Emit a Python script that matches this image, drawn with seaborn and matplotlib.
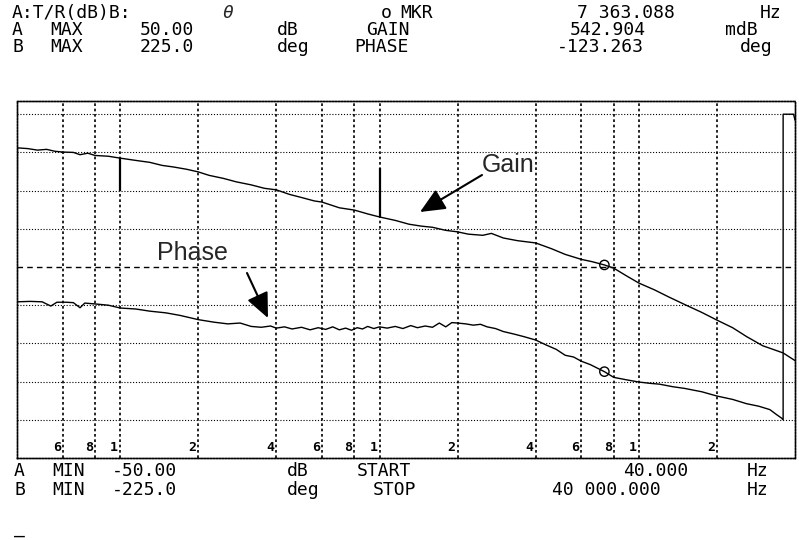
import matplotlib
matplotlib.use("Agg")
import matplotlib.pyplot as plt
import matplotlib.transforms as mtransforms
from matplotlib.ticker import NullLocator
import pandas as pd
import seaborn as sns

# ---------------- data ----------------
gain_freq = [40, 44, 48, 52, 56, 60, 66, 70, 75, 80, 90, 100, 115, 130, 145, 160,
             180, 200, 220, 250, 280, 320, 360, 400, 450, 500, 560, 600, 700, 800,
             900, 1000, 1150, 1300, 1450, 1600, 1800, 2000, 2200, 2500, 2700, 3000,
             3400, 4000, 4600, 5200, 6000, 6600, 7363, 8000, 9000, 10000, 11500,
             13000, 15000, 17500, 20000, 23000, 26000, 30000, 34000, 36000, 40000]
gain_db = [31.2, 31.0, 30.6, 30.8, 30.3, 30.1, 30.0, 29.4, 29.8, 29.2, 29.0, 28.5,
           27.9, 27.4, 26.6, 26.2, 25.6, 24.9, 24.0, 23.2, 22.3, 21.5, 20.6, 20.2,
           19.0, 18.2, 17.3, 17.0, 15.5, 14.9, 13.9, 13.1, 12.2, 11.2, 10.7, 10.4,
           9.6, 9.2, 8.6, 8.3, 8.8, 7.6, 6.9, 6.3, 4.8, 3.3, 2.0, 1.4, 0.54, -0.3,
           -2.4, -4.2, -6.0, -7.8, -9.8, -11.9, -13.9, -15.9, -18.2, -20.6, -21.9,
           -22.5, -24.5]

phase_freq = [40, 45, 50, 54, 57, 62, 66, 70, 73, 80, 90, 100, 115, 130, 150, 170,
              200, 230, 260, 290, 320, 350, 380, 400, 430, 460, 500, 540, 580, 620,
              660, 700, 740, 780, 820, 860, 900, 950, 1000, 1070, 1150, 1230, 1320,
              1400, 1500, 1600, 1700, 1800, 1900, 2000, 2150, 2300, 2450, 2600, 2800,
              3000, 3300, 3600, 4000, 4400, 4800, 5200, 5600, 6000, 6500, 7363, 8000,
              9000, 10000, 11000, 12000, 13500, 15000, 17500, 20000, 23000, 26000,
              29000, 32000, 34000, 35500, 36000, 36000, 39500, 40000]
phase_deg = [-41, -40.5, -41, -46, -41.5, -41.5, -42, -48, -42.5, -43.5, -45, -48.3,
             -49.5, -52, -54, -57, -62, -65, -67, -66, -70, -71, -69.5, -72, -70.5,
             -73, -71, -74, -71.5, -73.5, -70.5, -74, -72, -74.5, -71.5, -73, -70,
             -72.5, -70.5, -72, -70, -72.5, -69, -71.5, -69.5, -71, -66, -70.5,
             -65.5, -66, -67, -68.5, -67.5, -70.5, -72.5, -76, -79, -82, -86, -92,
             -97, -104, -106, -111, -115, -123.3, -130, -133, -135.5, -137, -138,
             -141, -143, -147, -152, -156, -161, -164, -168, -174, -178, -180, 180,
             180, 173]

marker_freq = 7363.088
marker_gain = 0.542904
marker_phase = -123.263

# short solid plotter strokes on the gain trace (freq, upper dB, lower dB)
stroke_freq = [40, 100, 1000]
stroke_top = [31.2, 28.5, 26.0]
stroke_bottom = [23.0, 20.0, 13.1]

grid_freqs = [60, 80, 100, 200, 400, 600, 800, 1000, 2000, 4000, 6000, 8000, 10000, 20000]
grid_labels = ["6", "8", "1", "2", "4", "6", "8", "1", "2", "4", "6", "8", "1", "2"]
gain_grid = [-40, -30, -20, -10, 10, 20, 30, 40]

f_start, f_stop = 40, 40000
a_min, a_max = -50.0, 50.0
b_min, b_max = -225.0, 225.0
visible_frac = 0.9346   # top of the scanned screen is cut slightly

header = [  # (text, x px, y px)
    ("A:T/R(dB)B:", 12, 13), ("o", 381, 13), ("MKR", 400, 13),
    ("7 363.088", 577, 13), ("Hz", 760, 13),
    ("A", 12, 30), ("MAX", 50, 30), ("50.00", 140, 30), ("dB", 277, 30),
    ("GAIN", 366, 30), ("542.904", 570, 30), ("mdB", 725, 30),
    ("B", 12, 47), ("MAX", 50, 47), ("225.0", 140, 47), ("deg", 277, 47),
    ("PHASE", 354, 47), ("-123.263", 557, 47), ("deg", 740, 47),
    ("A", 14, 471), ("MIN", 52, 471), ("-50.00", 112, 471), ("dB", 287, 471),
    ("START", 357, 471), ("40.000", 623, 471), ("Hz", 747, 471),
    ("B", 14, 490), ("MIN", 52, 490), ("-225.0", 112, 490), ("deg", 287, 490),
    ("STOP", 373, 490), ("40 000.000", 552, 490), ("Hz", 747, 490),
    ("_", 14, 528),
]

# ---------------- figure ----------------
sns.set_style("white")
plt.rcParams["font.family"] = ["DejaVu Sans Mono", "DejaVu Sans"]

W, H = 799, 540
fig = plt.figure(figsize=(W / 100, H / 100), dpi=100)
left, right, top, bottom = 17, 795, 101, 458
ax = fig.add_axes([left / W, 1 - bottom / H, (right - left) / W, (bottom - top) / H])
ax2 = ax.twinx()

gain_df = pd.DataFrame({"freq": gain_freq, "gain": gain_db})
phase_df = pd.DataFrame({"freq": phase_freq, "phase": phase_deg})

sns.lineplot(data=gain_df, x="freq", y="gain", ax=ax, estimator=None, sort=False,
             color="black", lw=1.0)
sns.lineplot(data=phase_df, x="freq", y="phase", ax=ax2, estimator=None, sort=False,
             color="black", lw=1.0)
sns.scatterplot(x=[marker_freq], y=[marker_gain], ax=ax, marker="o", s=45,
                facecolor="none", edgecolor="black", linewidth=1.0)
sns.scatterplot(x=[marker_freq], y=[marker_phase], ax=ax2, marker="o", s=45,
                facecolor="none", edgecolor="black", linewidth=1.0)
ax.vlines(stroke_freq, stroke_bottom, stroke_top, color="black", lw=1.6)

for a in (ax, ax2):
    a.set_xscale("log")
    a.set_xlim(f_start, f_stop)
    a.set_xlabel("")
    a.set_ylabel("")
ax.set_ylim(a_min, a_min + (a_max - a_min) * visible_frac)
ax2.set_ylim(b_min, b_min + (b_max - b_min) * visible_frac)

ax.set_xticks(grid_freqs)
ax.xaxis.set_minor_locator(NullLocator())
ax.set_xticklabels([])
ax.set_yticks(gain_grid)
ax.set_yticklabels([])
ax.tick_params(length=0)
ax2.set_yticks([])
ax2.tick_params(length=0)
ax.xaxis.grid(True, color="black", linestyle=(0, (1.6, 1.6)), lw=1.2)
ax.yaxis.grid(True, color="black", linestyle=(0, (1.0, 1.6)), lw=0.8)
ax.axhline(0, color="black", linestyle=(0, (4, 3)), lw=1.0)
ax.set_axisbelow(True)

for a in (ax, ax2):
    for s in a.spines.values():
        s.set_visible(True)
        s.set_color("black")
        s.set_linestyle((0, (1.0, 1.2)))
        s.set_linewidth(1.0)

# frequency digits along the bottom of the screen
blend = mtransforms.blended_transform_factory(ax.transData, ax.transAxes)
lab_tr = mtransforms.offset_copy(blend, fig=fig, x=-2, y=0, units="dots")
for f, lab in zip(grid_freqs, grid_labels):
    ax.text(f, 0.012, lab, transform=lab_tr, ha="right", va="bottom",
            fontsize=9.5, fontweight="bold", color="black")

# instrument header / footer text
for txt, x, y in header:
    fig.text(x / W, 1 - y / H, txt, ha="left", va="center", fontsize=13,
             color="black", family=["DejaVu Sans Mono", "DejaVu Sans"])
fig.text(222 / W, 1 - 13 / H, "θ", ha="left", va="center", fontsize=13,
         style="italic", family=["DejaVu Sans Mono", "DejaVu Sans"])

# callouts
fig.text(482 / W, 1 - 165 / H, "Gain", ha="left", va="center", fontsize=18,
         family=["Liberation Sans", "DejaVu Sans"])
fig.text(157 / W, 1 - 253 / H, "Phase", ha="left", va="center", fontsize=18,
         family=["Liberation Sans", "DejaVu Sans"])
arrow_kw = dict(arrowstyle="-|>,head_length=0.85,head_width=0.38", color="black",
                lw=1.5, mutation_scale=18, shrinkA=0, shrinkB=0)
ax.annotate("", xy=(420, H - 212), xycoords="figure pixels",
            xytext=(482, H - 175), textcoords="figure pixels", arrowprops=arrow_kw)
ax.annotate("", xy=(268, H - 318), xycoords="figure pixels",
            xytext=(247, H - 273), textcoords="figure pixels", arrowprops=arrow_kw)

fig.savefig("out.png", dpi=100, facecolor="white")
